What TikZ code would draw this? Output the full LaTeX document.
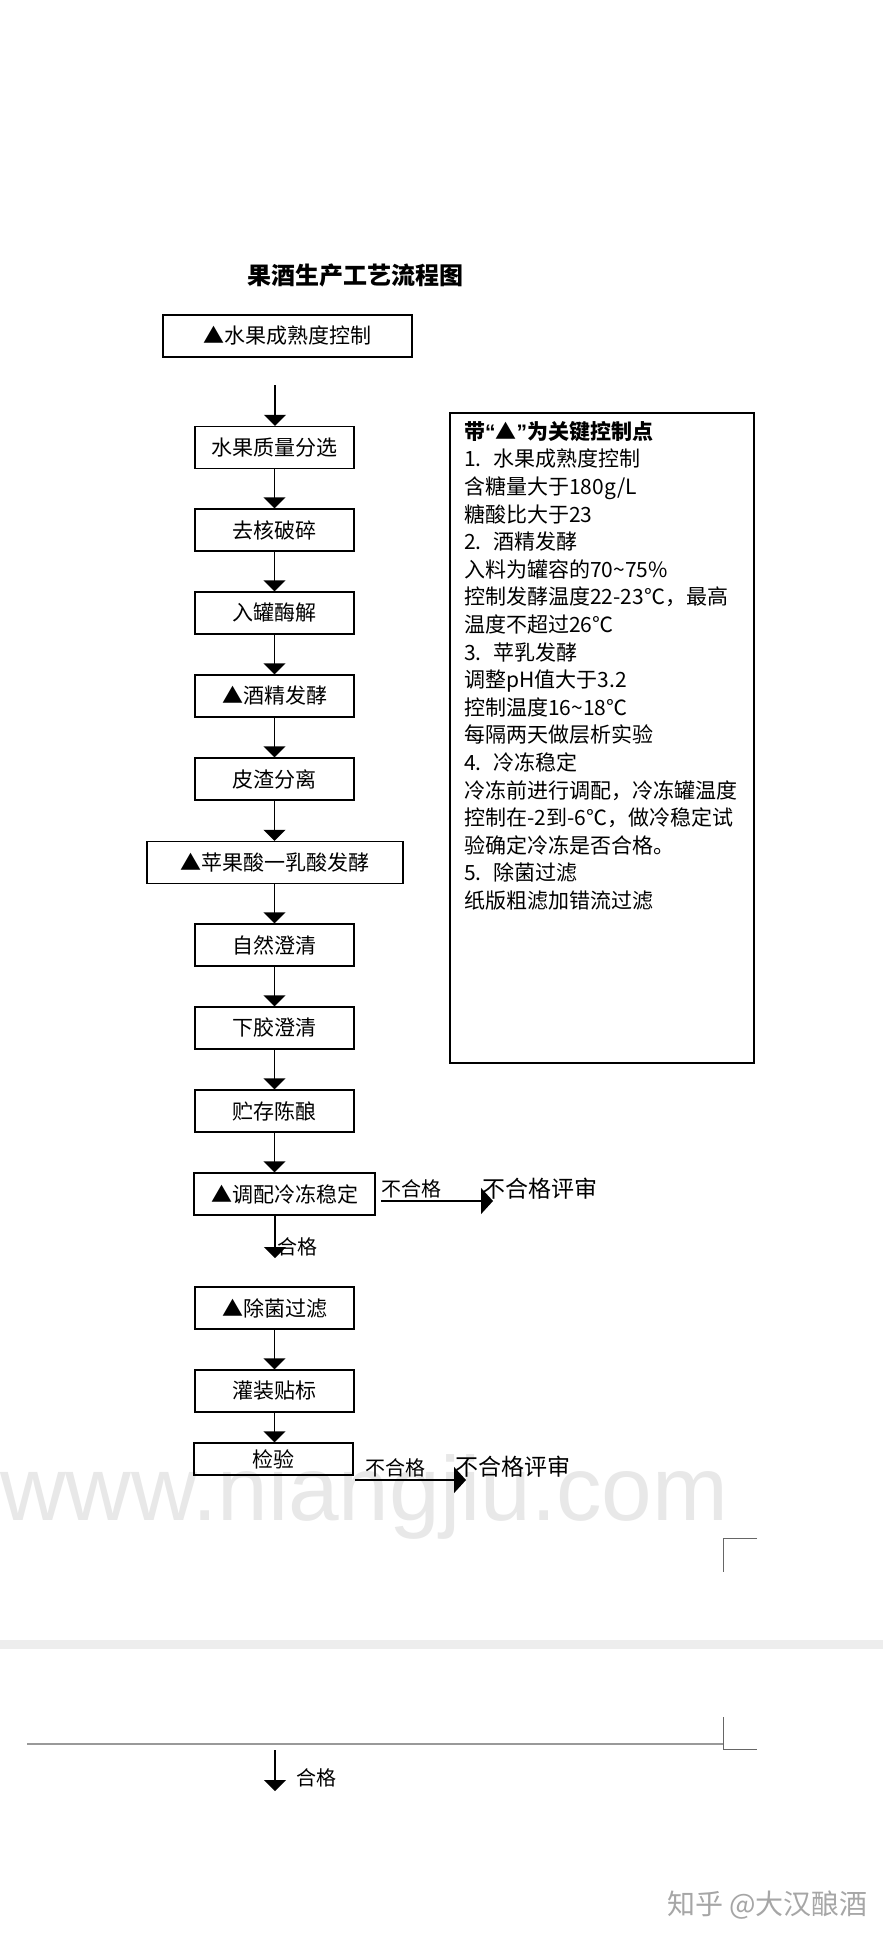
\documentclass[tikz,border=0pt]{standalone}
\usepackage{fontspec}
\setmainfont{Noto Sans CJK SC}
\newfontfamily\wmfont{Liberation Sans}
\usetikzlibrary{arrows.meta}
\begin{document}
\begin{tikzpicture}[x=1pt,y=-1pt,
  box/.style={draw, line width=1.4pt, minimum height=42pt, inner sep=0pt, font=\fontsize{21}{25}\selectfont},
  arr/.style={line width=1.4pt, -{Triangle[width=22pt,length=11pt]}},
  harr/.style={line width=1.4pt, -{Triangle[width=26pt,length=12pt]}},
  lbl/.style={anchor=west, inner sep=0pt, font=\fontsize{20}{24}\selectfont},
  big/.style={anchor=west, inner sep=0pt, font=\fontsize{23}{27}\selectfont},
  cornermark/.style={draw=black!60, line width=1pt}
  ]
\useasboundingbox[fill=white] (0,0) rectangle (883,1942);
% watermarks
\node[anchor=base west, inner sep=0pt, text=black!9, font=\wmfont\fontsize{91}{91}\selectfont] (wm) at (0,1520) {www.niangjiu.com};
\node[anchor=west, inner sep=0pt, text=black!35, font=\fontsize{28}{28}\selectfont] (zh) at (667,1905) {知乎 @大汉酿酒};

% title
\node[inner sep=0pt, font=\fontsize{24}{28}\selectfont\bfseries] (title) at (355,275) {果酒生产工艺流程图};

% flow boxes
\node[box, minimum width=249pt] (b1) at (287.5,336) {▲水果成熟度控制};
\node[box, minimum width=159pt] (b2) at (274.5,447.5) {水果质量分选};
\node[box, minimum width=159pt] (b3) at (274.5,530) {去核破碎};
\node[box, minimum width=159pt] (b4) at (274.5,613) {入罐酶解};
\node[box, minimum width=159pt] (b5) at (274.5,696) {▲酒精发酵};
\node[box, minimum width=159pt] (b6) at (274.5,779) {皮渣分离};
\node[box, minimum width=256pt] (b7) at (275,862.5) {▲苹果酸一乳酸发酵};
\node[box, minimum width=159pt] (b8) at (274.5,945) {自然澄清};
\node[box, minimum width=159pt] (b9) at (274.5,1028) {下胶澄清};
\node[box, minimum width=159pt] (b10) at (274.5,1111) {贮存陈酿};
\node[box, minimum width=181pt] (b11) at (284.5,1194) {▲调配冷冻稳定};
\node[box, minimum width=159pt] (b12) at (274.5,1308) {▲除菌过滤};
\node[box, minimum width=159pt] (b13) at (274.5,1391) {灌装贴标};
\node[box, minimum width=159pt, minimum height=32pt] (b14) at (273.5,1459) {检验};

% vertical connectors
\coordinate (s1) at (275,385);
\draw[arr] (s1) -- (s1 |- b2.north);
\draw[arr] (b2.south) -- (b3.north);
\draw[arr] (b3.south) -- (b4.north);
\draw[arr] (b4.south) -- (b5.north);
\draw[arr] (b5.south) -- (b6.north);
\draw[arr] (b6.south) -- (b6.south |- b7.north);
\draw[arr] (b7.south -| b8.south) -- (b8.north);
\draw[arr] (b8.south) -- (b9.north);
\draw[arr] (b9.south) -- (b10.north);
\draw[arr] (b10.south) -- (b10.south |- b11.north);
\coordinate (e11) at (275,1258);
\draw[arr] (b11.south -| e11) -- (e11);
\node[lbl] (ok1) at (277,1247) {合格};
\draw[arr] (b12.south) -- (b13.north);
\draw[arr] (b13.south) -- (b13.south |- b14.north);

% reject branches
\coordinate (r1s) at (381,1201);
\coordinate (r1e) at (493,1201);
\node[lbl] (ng1) at (381,1189) {不合格};
\draw[harr] (r1s) -- (r1e);
\node[big] (rv1) at (482,1189) {不合格评审};

\coordinate (r2s) at (355,1480);
\coordinate (r2e) at (466,1480);
\node[lbl] (ng2) at (365,1468) {不合格};
\draw[harr] (r2s) -- (r2e);
\node[big] (rv2) at (455,1467) {不合格评审};

% notes box
\node[draw, line width=1.4pt, minimum width=304pt, minimum height=650pt, inner sep=0pt] (notes) at (602,738) {};
\node[anchor=north west, align=left, inner sep=0pt, font=\fontsize{21}{27.6}\selectfont] (nt) at (464,421) {%
{\bfseries 带{\wmfont “}▲{\wmfont ”}为关键控制点}\\
1.\hspace{12pt}水果成熟度控制\\
含糖量大于180g/L\\
糖酸比大于23\\
2.\hspace{12pt}酒精发酵\\
入料为罐容的70\char"7E 75\%\\
控制发酵温度22-23℃，最高\\
温度不超过26℃\\
3.\hspace{12pt}苹乳发酵\\
调整pH值大于3.2\\
控制温度16\char"7E 18℃\\
每隔两天做层析实验\\
4.\hspace{12pt}冷冻稳定\\
冷冻前进行调配，冷冻罐温度\\
控制在-2到-6℃，做冷稳定试\\
验确定冷冻是否合格。\\
5.\hspace{12pt}除菌过滤\\
纸版粗滤加错流过滤};

% lower page part
\fill[black!7] (0,1640) rectangle (883,1649);
\draw[cornermark] (757,1538) -- (723,1538) -- (723,1572);
\draw[cornermark] (723,1717) -- (723,1749) -- (757,1749);
\draw[draw=black!40, line width=1.5pt] (27,1744) -- (723,1744);
\coordinate (a2s) at (275,1750);
\coordinate (a2e) at (275,1791);
\draw[arr] (a2s) -- (a2e);
\node[lbl] (ok2) at (296,1778) {合格};
\end{tikzpicture}
\end{document}
